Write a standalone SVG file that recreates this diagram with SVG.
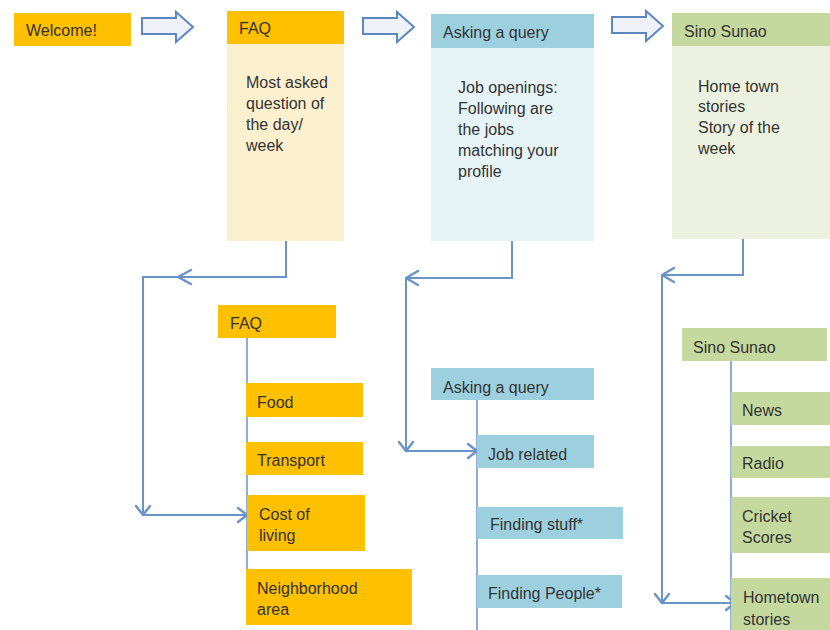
<svg xmlns="http://www.w3.org/2000/svg" width="830" height="630" viewBox="0 0 830 630">
<defs>
<style>
text{font-family:"Liberation Sans",Arial,sans-serif;font-size:16px;fill:#333;dominant-baseline:central}
.y{fill:#FFC000}.yl{fill:#FCF0CF}
.b{fill:#9DD0DF}.bl{fill:#E6F3F7}
.g{fill:#C5D89E}.gl{fill:#EDF2E0}
.blk{fill:#EEF2F8;stroke:#5B86C0;stroke-width:2;stroke-linejoin:miter}
.ln{fill:none;stroke:#6A93C8;stroke-width:2}
.ah{fill:none;stroke:#6A93C8;stroke-width:2.4;stroke-linecap:round;stroke-linejoin:round}
.tr{fill:none;stroke:#6A93C8;stroke-width:1.5}
</style>
</defs>
<rect width="830" height="630" fill="#fff"/>

<g id="welcome"><rect class="y" x="14" y="13" width="117" height="33"/><text x="26" y="30">Welcome!</text></g>

<g id="faq-top"><rect class="yl" x="227" y="44" width="117" height="197"/><rect class="y" x="227" y="11" width="117" height="33"/><text x="239" y="28">FAQ</text>
<text x="246" y="82">Most asked</text><text x="246" y="103">question of</text><text x="246" y="124">the day/</text><text x="246" y="145">week</text></g>

<g id="query-top"><rect class="bl" x="431" y="48" width="163" height="193"/><rect class="b" x="431" y="14" width="163" height="34"/><text x="443" y="32">Asking a query</text>
<text x="458" y="87">Job openings:</text><text x="458" y="108">Following are</text><text x="458" y="129">the jobs</text><text x="458" y="150">matching your</text><text x="458" y="171">profile</text></g>

<g id="sino-top"><rect class="gl" x="672" y="46" width="158" height="193"/><rect class="g" x="672" y="13" width="158" height="33"/><text x="684" y="31">Sino Sunao</text>
<text x="698" y="86">Home town</text><text x="698" y="106">stories</text><text x="698" y="127">Story of the</text><text x="698" y="148">week</text></g>

<g id="block-arrows">
<path class="blk" d="M142,18 H176 V12 L193,27 L176,42 V34 H142 Z"/>
<path class="blk" d="M363,18 H397 V12 L414,27 L397,42 V34 H363 Z"/>
<path class="blk" d="M612,17 H646 V11 L663,26 L646,41 V33 H612 Z"/>
</g>

<g id="connectors">
<path class="ln" d="M286,241 V277 H143 V515 H247"/>
<path class="ah" d="M191,270 L178,277 L191,284"/>
<path class="ah" d="M136,506 L143,515 L150,506"/>
<path class="ah" d="M238,508 L247,515 L238,522"/>

<path class="ln" d="M512,241 V278 H406 V451 H477"/>
<path class="ah" d="M418,271 L406,278 L418,285"/>
<path class="ah" d="M399,442 L406,451 L413,442"/>
<path class="ah" d="M468,444 L477,451 L468,458"/>

<path class="ln" d="M743,239 V275 H662 V603 H735"/>
<path class="ah" d="M674,268 L662,275 L674,282"/>
<path class="ah" d="M655,594 L662,603 L669,594"/>
<path class="ah" d="M726,596 L735,603 L726,610"/>

<path class="tr" d="M247,338 V570"/>
<path class="tr" d="M477,400 V630"/>
<path class="tr" d="M731,361 V630"/>
</g>

<g id="faq-sub"><rect class="y" x="218" y="305" width="118" height="33"/><text x="230" y="323">FAQ</text></g>
<g id="food"><rect class="y" x="246" y="383" width="117" height="34"/><text x="257" y="402">Food</text></g>
<g id="transport"><rect class="y" x="246" y="442" width="117" height="33"/><text x="257" y="460">Transport</text></g>
<g id="cost"><rect class="y" x="247" y="495" width="118" height="56"/><text x="259" y="514">Cost of</text><text x="259" y="535">living</text></g>
<g id="neighborhood"><rect class="y" x="246" y="569" width="166" height="56"/><text x="257" y="588">Neighborhood</text><text x="257" y="609">area</text></g>

<g id="query-sub"><rect class="b" x="431" y="368" width="163" height="32"/><text x="443" y="387">Asking a query</text></g>
<g id="job"><rect class="b" x="477" y="435" width="117" height="33"/><text x="488" y="454">Job related</text></g>
<g id="stuff"><rect class="b" x="477" y="507" width="146" height="32"/><text x="490" y="524">Finding stuff*</text></g>
<g id="people"><rect class="b" x="477" y="575" width="145" height="33"/><text x="488" y="593">Finding People*</text></g>

<g id="sino-sub"><rect class="g" x="682" y="328" width="145" height="33"/><text x="693" y="347">Sino Sunao</text></g>
<g id="news"><rect class="g" x="731" y="392" width="99" height="33"/><text x="742" y="410">News</text></g>
<g id="radio"><rect class="g" x="731" y="446" width="99" height="32"/><text x="742" y="463">Radio</text></g>
<g id="cricket"><rect class="g" x="731" y="497" width="99" height="56"/><text x="742" y="516">Cricket</text><text x="742" y="537">Scores</text></g>
<g id="hometown"><rect class="g" x="731" y="578" width="99" height="52"/><text x="743" y="597">Hometown</text><text x="743" y="619">stories</text></g>
</svg>
